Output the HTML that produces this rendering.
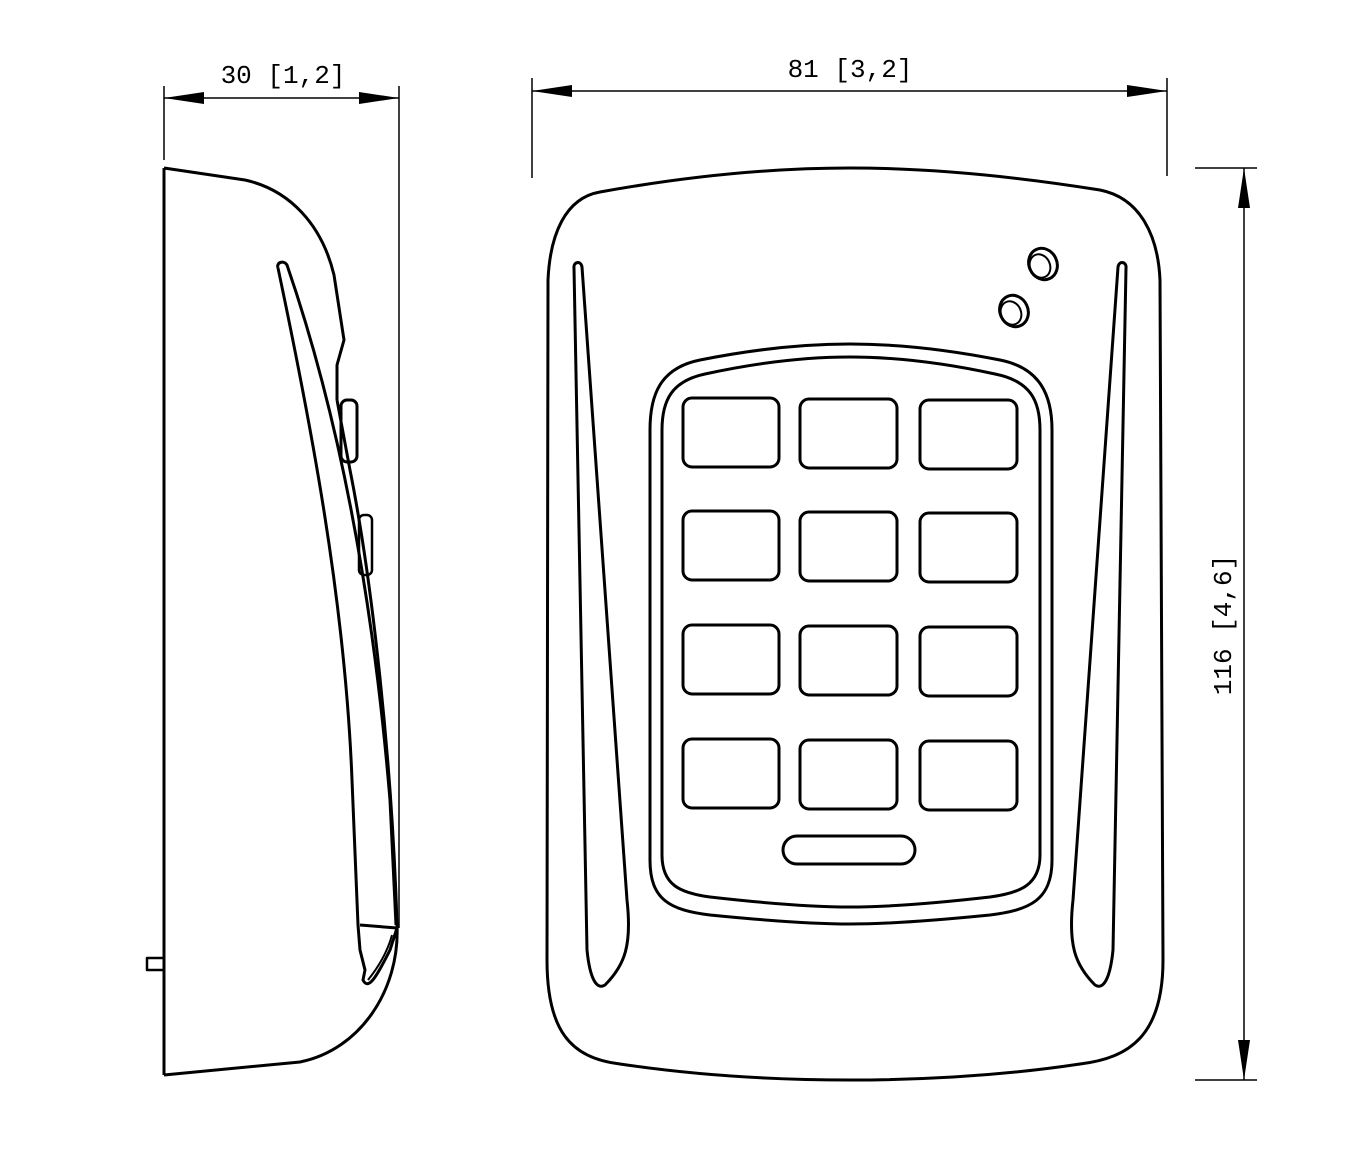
<!DOCTYPE html>
<html><head><meta charset="utf-8"><style>
html,body{margin:0;padding:0;background:#fff;}
svg{display:block;}
text{font-family:"Liberation Mono","DejaVu Sans Mono",monospace;font-size:26px;fill:#000;}
</style></head><body>
<svg width="1345" height="1158" viewBox="0 0 1345 1158" xmlns="http://www.w3.org/2000/svg">
<defs>
<marker id="a" viewBox="0 0 40 12" refX="40" refY="6" markerWidth="40" markerHeight="12" markerUnits="userSpaceOnUse" orient="auto-start-reverse">
<path d="M0,0 L40,6 L0,12 Z" fill="#000"/></marker>
</defs>
<g stroke="#000" fill="none" stroke-width="1.5">
<!-- dimension: 30 -->
<line x1="164" y1="86" x2="164" y2="160"/>
<line x1="399" y1="86" x2="399" y2="928"/>
<line x1="164" y1="98" x2="399" y2="98" marker-start="url(#a)" marker-end="url(#a)"/>
<!-- dimension: 81 -->
<line x1="532" y1="78" x2="532" y2="178"/>
<line x1="1167" y1="78" x2="1167" y2="176"/>
<line x1="532" y1="91" x2="1167" y2="91" marker-start="url(#a)" marker-end="url(#a)"/>
<!-- dimension: 116 -->
<line x1="1195" y1="168" x2="1257" y2="168"/>
<line x1="1195" y1="1080" x2="1257" y2="1080"/>
<line x1="1244" y1="168" x2="1244" y2="1080" marker-start="url(#a)" marker-end="url(#a)"/>
</g>
<text x="283" y="83" text-anchor="middle">30 [1,2]</text>
<text x="850" y="77" text-anchor="middle">81 [3,2]</text>
<text transform="translate(1231,625) rotate(-90)" text-anchor="middle">116 [4,6]</text>

<g stroke="#000" fill="none" stroke-width="3" stroke-linejoin="round">
<!-- side view -->
<path d="M164,168 L164,1075 M164,168 L245,180 C290,190 322,225 334,275 L344,340 L337,365 L337,400"/>
<path d="M337,400 L350,470 C372,580 392,760 397,925 C400,990 360,1050 300,1062 L164,1075"/>
<path d="M147,958 L164,958 L164,970 L147,970 Z" stroke-width="2.5"/>
<path d="M278,268 C276,262 284,260 287,265 C330,390 370,560 390,800 L396,925"/>
<path d="M278,268 C310,420 345,600 352,780 L358,925 L360,950 L365,970 L363,980 C368,990 375,980 390,950 L397,928 L360,925"/>
<path d="M368,980 C380,965 388,950 392,935" stroke-width="2"/>
<rect x="341" y="400" width="16" height="62" rx="6"/>
<rect x="359" y="515" width="13" height="60" rx="5" stroke-width="2.5"/>

<!-- front view outer -->
<path d="M600,192 C700,174 780,168 850,168 C920,168 1000,174 1100,190 C1140,198 1158,235 1160,280 L1163,960 C1163,1035 1130,1058 1080,1064 C1000,1076 920,1080 850,1080 C780,1080 700,1076 620,1064 C570,1058 547,1030 547,960 L548,280 C550,235 565,198 600,192 Z"/>
<!-- left strip -->
<path d="M574,268 C573,262 581,260 582,267 L627,900 C632,945 625,965 605,985 C597,990 590,980 587,950 L574,268 Z"/>
<!-- right strip -->
<path d="M1126,268 C1127,262 1119,260 1118,267 L1073,900 C1068,945 1075,965 1095,985 C1103,990 1110,980 1113,950 L1126,268 Z"/>
<!-- LEDs -->
<ellipse cx="1043" cy="264" rx="14" ry="16" transform="rotate(-25 1043 264)"/>
<ellipse cx="1040" cy="266" rx="10" ry="12" transform="rotate(-25 1040 266)" stroke-width="2"/>
<ellipse cx="1014" cy="311" rx="14" ry="16" transform="rotate(-25 1014 311)"/>
<ellipse cx="1011" cy="313" rx="10" ry="12" transform="rotate(-25 1011 313)" stroke-width="2"/>
<!-- keypad frames -->
<path d="M700,360 C760,348 810,344 850,344 C890,344 940,348 1000,360 C1040,368 1052,395 1052,430 L1052,860 C1052,900 1030,910 990,915 C920,922 880,924 850,924 C820,924 780,922 710,915 C670,910 650,900 650,860 L650,430 C650,395 660,368 700,360 Z"/>
<path d="M705,374 C760,362 810,357 850,357 C890,357 940,362 995,374 C1030,381 1040,400 1040,430 L1040,855 C1040,885 1020,893 990,897 C920,905 880,907 850,907 C820,907 780,905 710,897 C680,893 662,885 662,855 L662,430 C662,400 672,381 705,374 Z"/>
<!-- keys -->
<g stroke-width="3">
<rect x="683" y="398" width="96" height="69" rx="9"/>
<rect x="800" y="399" width="97" height="69" rx="9"/>
<rect x="920" y="400" width="97" height="69" rx="9"/>
<rect x="683" y="511" width="96" height="69" rx="9"/>
<rect x="800" y="512" width="97" height="69" rx="9"/>
<rect x="920" y="513" width="97" height="69" rx="9"/>
<rect x="683" y="625" width="96" height="69" rx="9"/>
<rect x="800" y="626" width="97" height="69" rx="9"/>
<rect x="920" y="627" width="97" height="69" rx="9"/>
<rect x="683" y="739" width="96" height="69" rx="9"/>
<rect x="800" y="740" width="97" height="69" rx="9"/>
<rect x="920" y="741" width="97" height="69" rx="9"/>
<rect x="783" y="836" width="132" height="28" rx="14"/>
</g>
</g>
</svg>
</body></html>
